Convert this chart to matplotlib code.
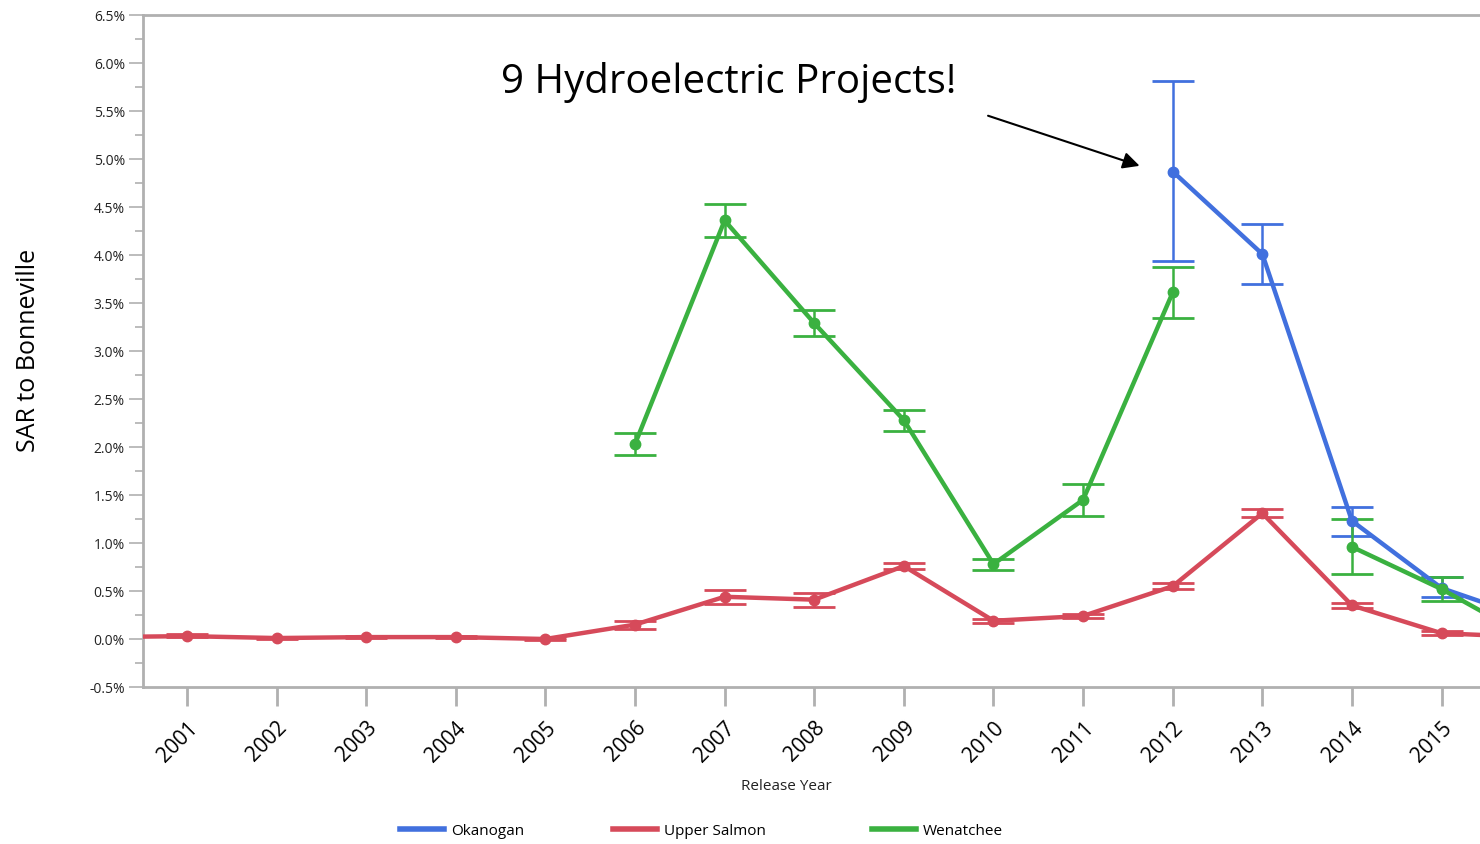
import matplotlib.pyplot as plt
import numpy as np
from matplotlib.ticker import MultipleLocator, FuncFormatter
from matplotlib.lines import Line2D

plt.rcParams['font.family'] = ['Open Sans', 'DejaVu Sans']

# SAR values in percent (NaN where no release)
years = [2000, 2001, 2002, 2003, 2004, 2005, 2006, 2007, 2008,
         2009, 2010, 2011, 2012, 2013, 2014, 2015, 2016]
nan = np.nan

okanogan = [nan, nan, nan, nan, nan, nan, nan, nan, nan,
            nan, nan, nan, 4.87, 4.01, 1.23, 0.53, 0.21]
okanogan_lo = [nan, nan, nan, nan, nan, nan, nan, nan, nan,
               nan, nan, nan, 3.94, 3.70, 1.07, 0.44, nan]
okanogan_hi = [nan, nan, nan, nan, nan, nan, nan, nan, nan,
               nan, nan, nan, 5.81, 4.32, 1.38, 0.65, nan]

salmon = [0.02, 0.03, 0.01, 0.02, 0.02, 0.00, 0.15, 0.44, 0.41,
          0.76, 0.19, 0.24, 0.55, 1.31, 0.35, 0.06, 0.02]
salmon_lo = [nan, 0.02, 0.00, 0.01, 0.01, -0.01, 0.10, 0.36, 0.33,
             0.73, 0.17, 0.22, 0.52, 1.27, 0.32, 0.04, nan]
salmon_hi = [nan, 0.05, 0.02, 0.03, 0.03, 0.01, 0.19, 0.51, 0.48,
             0.79, 0.21, 0.26, 0.58, 1.35, 0.38, 0.08, nan]

wenatchee = [nan, nan, nan, nan, nan, nan, 2.03, 4.36, 3.29,
             2.28, 0.78, 1.45, 3.61, nan, 0.96, 0.52, 0.00]
wenatchee_lo = [nan, nan, nan, nan, nan, nan, 1.92, 4.19, 3.16,
                2.17, 0.72, 1.28, 3.34, nan, 0.68, 0.40, nan]
wenatchee_hi = [nan, nan, nan, nan, nan, nan, 2.15, 4.53, 3.43,
                2.39, 0.83, 1.61, 3.875, nan, 1.25, 0.65, nan]

series = [
    ("Okanogan", okanogan, okanogan_lo, okanogan_hi, "#4170DE"),
    ("Upper Salmon", salmon, salmon_lo, salmon_hi, "#D64A5A"),
    ("Wenatchee", wenatchee, wenatchee_lo, wenatchee_hi, "#3AB140"),
]

fig = plt.figure(figsize=(14.8, 8.44), dpi=100)
# axes run past the right edge of the figure, like the cropped original
ax = fig.add_axes([0.0966, 0.186, 0.938, 0.7962])

x = np.array(years)
for name, v, lo, hi, c in series:
    v = np.array(v, dtype=float)
    lo = np.array(lo, dtype=float)
    hi = np.array(hi, dtype=float)
    ax.plot(x, v, color=c, lw=3.2, marker='o', ms=7.5, zorder=3)
    ok = ~np.isnan(lo)
    ax.errorbar(x[ok], v[ok], yerr=[v[ok] - lo[ok], hi[ok] - v[ok]],
                fmt='none', ecolor=c, elinewidth=1.8, capsize=15,
                capthick=2, zorder=2)

ax.set_xlim(2000.51, 2016.0)
ax.set_ylim(-0.5, 6.5)
ax.yaxis.set_major_locator(MultipleLocator(0.5))
ax.yaxis.set_minor_locator(MultipleLocator(0.25))
ax.yaxis.set_major_formatter(FuncFormatter(lambda v, p: f"{v:.1f}%"))
ax.set_xticks(range(2001, 2016))
ax.set_xticklabels([str(y) for y in range(2001, 2016)], rotation=45,
                   ha='right', va='top', rotation_mode='anchor', fontsize=15)
ax.tick_params(axis='x', length=14, width=2, color='#b0b0b0', pad=8)
ax.tick_params(axis='y', which='major', length=10, width=1.2,
               color='#b0b0b0', labelsize=10, labelcolor='#222222', pad=3)
ax.tick_params(axis='y', which='minor', length=6, width=1.2, color='#b0b0b0')
for s in ['left', 'bottom', 'top']:
    ax.spines[s].set_color('#b0b0b0')
    ax.spines[s].set_linewidth(2)
ax.spines['right'].set_visible(False)

fig.text(0.019, 0.585, "SAR to Bonneville", rotation=90, ha='center',
         va='center', fontsize=18)
fig.text(0.531, 0.068, "Release Year", ha='center', va='center',
         fontsize=11, color='#222222')

ax.annotate("", xy=(2011.66, 4.92), xytext=(2009.91, 5.46),
            arrowprops=dict(arrowstyle='-|>', color='black', lw=1.5,
                            mutation_scale=25))
fig.text(0.4926, 0.902, "9 Hydroelectric Projects!", ha='center',
         va='center', fontsize=29)

legend_x = [0.270, 0.414, 0.589]
for (name, _, _, _, c), lx in zip(series, legend_x):
    fig.legend([Line2D([], [], color=c, lw=4)], [name], loc='center left',
               bbox_to_anchor=(lx, 0.015), frameon=False, fontsize=11,
               handlelength=2.9, handletextpad=0.45, borderpad=0,
               borderaxespad=0)

fig.savefig("out.png", dpi=100)
